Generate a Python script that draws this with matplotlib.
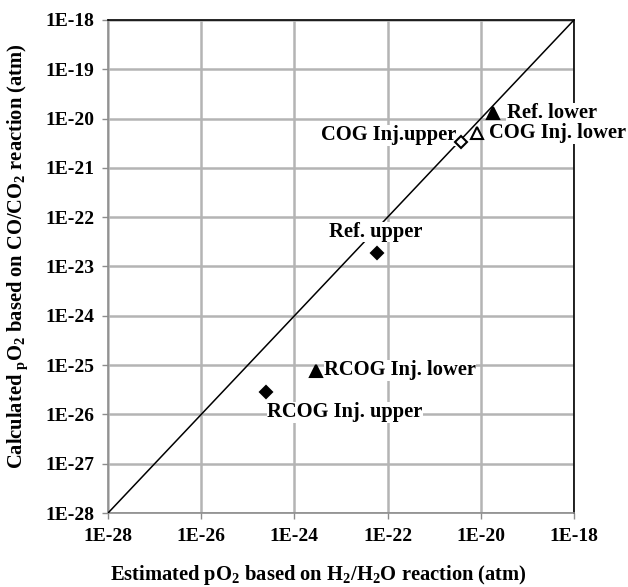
import numpy as np
import matplotlib.pyplot as plt

plt.rcParams['font.family'] = ['Liberation Serif', 'DejaVu Serif']
plt.rcParams['mathtext.fontset'] = 'custom'
plt.rcParams['mathtext.rm'] = 'Liberation Serif:bold'
plt.rcParams['mathtext.bf'] = 'Liberation Serif:bold'

# data (atm)
labels = ['Ref. lower', 'COG Inj. lower', 'COG Inj.upper',
          'Ref. upper', 'RCOG Inj. lower', 'RCOG Inj. upper']
x_est = [1.8e-20, 8.3e-21, 3.8e-21, 5.9e-23, 2.9e-24, 2.5e-25]
y_calc = [1.3e-20, 5.1e-21, 3.3e-21, 1.9e-23, 7.5e-26, 2.8e-26]
markers = ['^', '^', 'D', 'D', '^', 'D']
filled = [True, False, False, True, True, True]

xticks = [1e-28, 1e-26, 1e-24, 1e-22, 1e-20, 1e-18]
yticks = [10.0**k for k in range(-28, -17)]

fig = plt.figure(figsize=(6.28, 5.87), dpi=100)
ax = fig.add_axes([0.172, 0.126, 0.742, 0.840])

ax.set_xscale('log')
ax.set_yscale('log')
ax.set_xlim(1e-28, 1e-18)
ax.set_ylim(1e-28, 1e-18)

ax.plot([1e-28, 1e-18], [1e-28, 1e-18], color='k', lw=1.1, zorder=3)

for xv, yv, m, f in zip(x_est, y_calc, markers, filled):
    ms = 8.5 if m == '^' else 6
    ax.plot(xv, yv, m, ms=ms, mfc='k' if f else 'white', mec='k',
            mew=1.5, zorder=6)

ax.set_xticks(xticks)
ax.set_yticks(yticks)
ax.minorticks_off()
ax.set_xticklabels(['1E%d' % round(np.log10(v)) for v in xticks])
ax.set_yticklabels(['1E%d' % round(np.log10(v)) for v in yticks])
ax.tick_params(labelsize=14, length=4, color='#8c8c8c', width=1)
ax.tick_params(axis='y', pad=6)
ax.tick_params(axis='x', pad=7)
for lab in ax.get_xticklabels() + ax.get_yticklabels():
    lab.set_fontweight('bold')

ax.grid(True, color='#b4b4b4', lw=1.8)
ax.set_axisbelow(True)
for s in ['left', 'bottom']:
    ax.spines[s].set_color('#8c8c8c')
    ax.spines[s].set_linewidth(1.2)
for s in ['top', 'right']:
    ax.spines[s].set_color('k')
    ax.spines[s].set_linewidth(1.2)
    ax.spines[s].set_zorder(2.5)

box = dict(facecolor='white', edgecolor='none', pad=0.3)
tkw = dict(fontsize=14.8, fontweight='bold', bbox=box, zorder=5, clip_on=False)
ax.text(3.6e-20, 1.3e-20, labels[0], ha='left', va='center', **tkw)
ax.text(1.5e-20, 5.0e-21, labels[1], ha='left', va='center', **tkw)
ax.text(3.0e-21, 4.6e-21, labels[2], ha='right', va='center', **tkw)
ax.text(5.5e-24, 5.0e-23, labels[3], ha='left', va='center', **tkw)
ax.text(4.3e-24, 7.9e-26, labels[4], ha='left', va='center', **tkw)
ax.text(2.6e-25, 1.1e-26, labels[5], ha='left', va='center', **tkw)

fig.text(0.507, 0.020, r'Estimated pO$_2$ based on H$_2$/H$_2$O reaction (atm)',
         ha='center', va='center', fontsize=14.8, fontweight='bold')
fig.text(0.030, 0.564, r'Calculated $_{\mathrm{p}}$O$_2$ based on CO/CO$_2$ reaction (atm)',
         ha='center', va='center', rotation=90, fontsize=14.8, fontweight='bold')

fig.savefig('out.png', dpi=100)
